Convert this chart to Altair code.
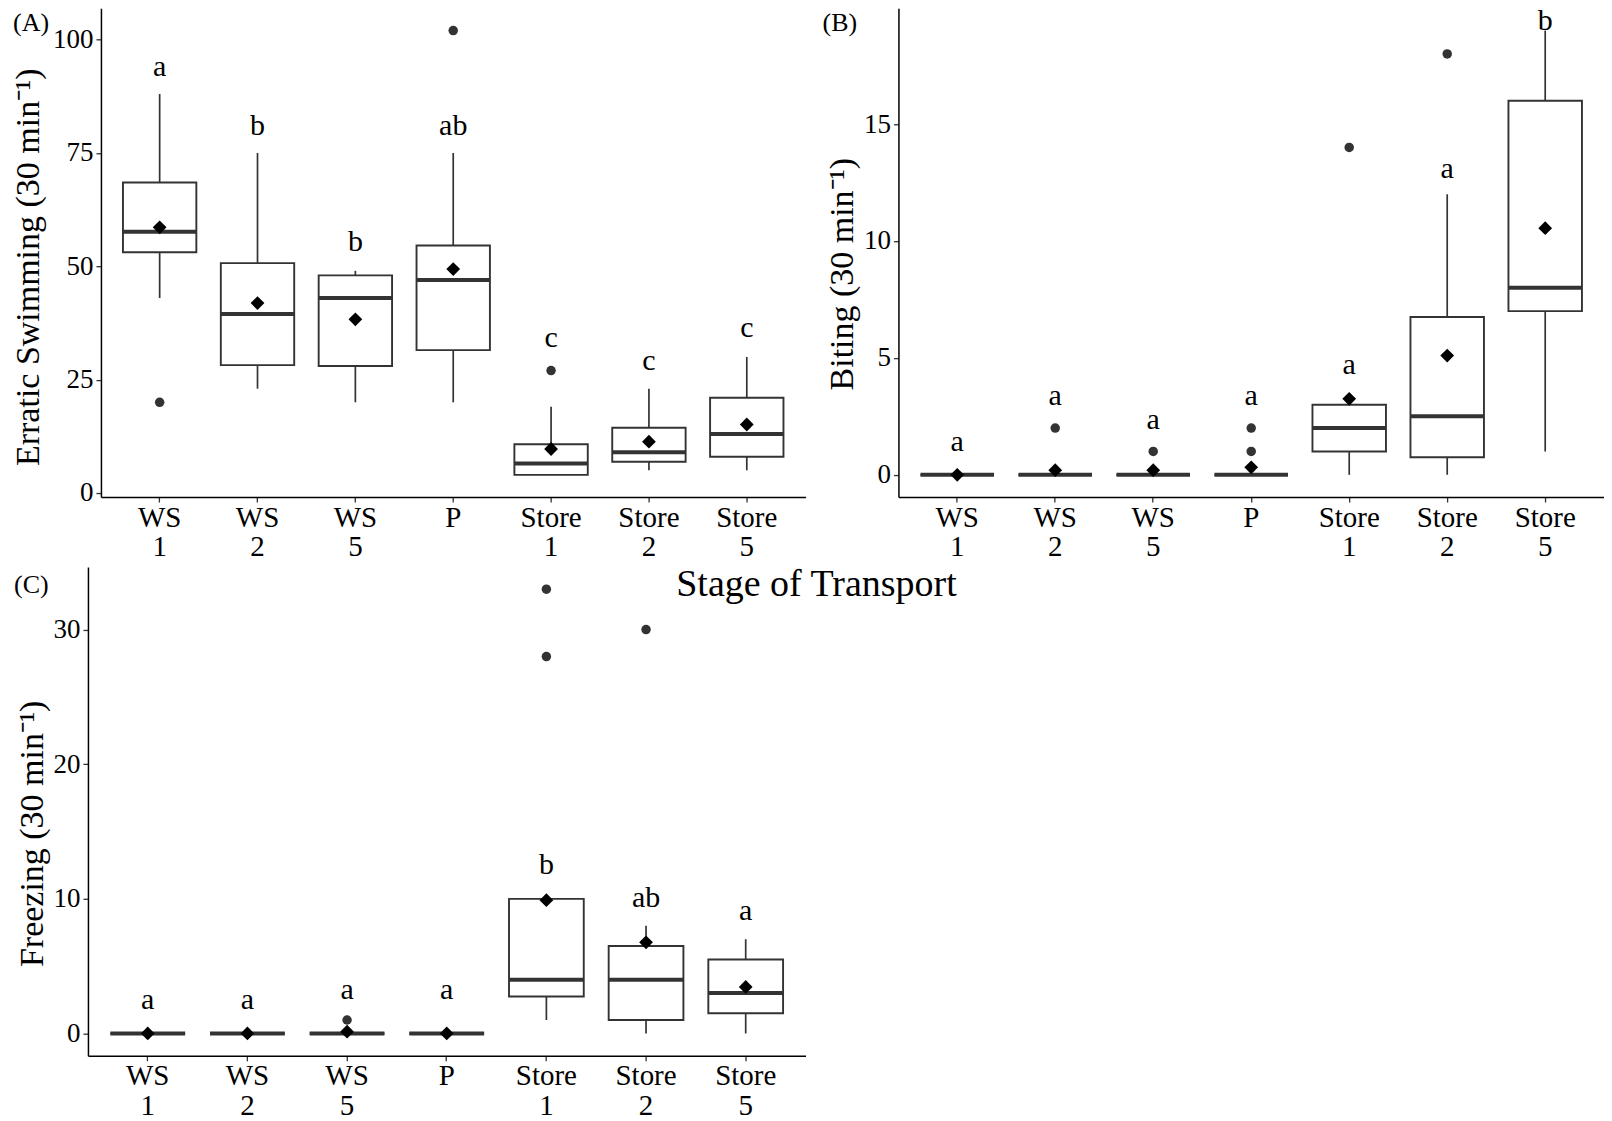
import altair as alt
import pandas as pd

FONT = "Liberation Serif"
cats = ["WS 1", "WS 2", "WS 5", "P", "Store 1", "Store 2", "Store 5"]

# ---------------- Panel A: Erratic swimming ----------------
a_q1 = [53.1, 28.2, 28.0, 31.5, 4.0, 6.9, 8.0]
a_med = [57.6, 39.5, 43.0, 47.0, 6.5, 9.0, 13.0]
a_q3 = [68.5, 50.7, 48.0, 54.6, 10.75, 14.4, 21.0]
a_lo = [43.0, 23.0, 20.0, 20.0, 4.0, 5.0, 5.0]
a_hi = [88.0, 75.0, 49.0, 75.0, 19.0, 23.0, 30.0]
a_mean = [58.6, 41.9, 38.3, 49.4, 9.7, 11.3, 15.1]
a_out_cat = ["WS 1", "P", "Store 1"]
a_out_val = [20, 102, 27]
a_letters = ["a", "b", "b", "ab", "c", "c", "c"]
a_letter_y = [93.9, 81.0, 55.4, 81.0, 34.2, 29.1, 36.3]

# ---------------- Panel B: Biting ----------------
b_q1 = [0, 0, 0, 0, 1.0, 0.75, 7.0]
b_med = [0, 0, 0, 0, 2.0, 2.5, 8.0]
b_q3 = [0, 0, 0, 0, 3.0, 6.75, 16.0]
b_lo = [0, 0, 0, 0, 0, 0, 1.0]
b_hi = [0, 0, 0, 0, 3.0, 12.0, 19.0]
b_mean = [0.0, 0.2, 0.2, 0.32, 3.25, 5.1, 10.55]
b_out_cat = ["WS 2", "WS 5", "P", "P", "Store 1", "Store 2"]
b_out_val = [2, 1, 2, 1, 14, 18]
b_letters = ["a", "a", "a", "a", "a", "a", "b"]
b_letter_y = [1.42, 3.35, 2.36, 3.35, 4.7, 13.1, 19.4]

# ---------------- Panel C: Freezing ----------------
c_q1 = [0, 0, 0, 0, 2.75, 1.0, 1.5]
c_med = [0, 0, 0, 0, 4.0, 4.0, 3.0]
c_q3 = [0, 0, 0, 0, 10.0, 6.5, 5.5]
c_lo = [0, 0, 0, 0, 1.0, 0, 0]
c_hi = [0, 0, 0, 0, 10.0, 8.0, 7.0]
c_mean = [0.0, 0.0, 0.13, 0.0, 9.9, 6.77, 3.46]
c_out_cat = ["WS 5", "Store 1", "Store 1", "Store 2"]
c_out_val = [1, 33, 28, 30]
c_letters = ["a", "a", "a", "a", "b", "ab", "a"]
c_letter_y = [2.5, 2.5, 3.25, 3.25, 12.5, 10.1, 9.07]


def panel(q1, med, q3, lo, hi, mean, out_cat, out_val, letters, letter_y,
          domain, ticks, ytitle, width, height, tag, tagx, tagy,
          title_x, title_dy, xrange=None, yoffset=0, extra=None):
    box = pd.DataFrame({"cat": cats, "q1": q1, "med": med, "q3": q3,
                        "lo": lo, "hi": hi, "mean": mean,
                        "letter": letters, "ly": letter_y})
    outs = pd.DataFrame({"cat": out_cat, "val": out_val})
    r0, r1 = (xrange if xrange else (0, width))
    step = (r1 - r0) / 7.2
    bw = 0.75 * step

    sc_kw = dict(domain=cats, paddingInner=0.25, paddingOuter=0.225)
    if xrange:
        sc_kw["range"] = list(xrange)
    xscale = alt.Scale(**sc_kw)
    xaxis = alt.Axis(labelExpr="split(datum.label, ' ')", labelAngle=0,
                     labelFontSize=29, labelLineHeight=30, labelPadding=1,
                     tickSize=5, title=None)
    yscale = alt.Scale(domain=domain, nice=False, zero=False)
    yaxis = alt.Axis(values=ticks, title=ytitle, titleX=title_x,
                     titleY=height / 2 + title_dy, offset=yoffset,
                     labelFontSize=27, labelPadding=3, tickSize=5,
                     titleFontSize=34)

    def X():
        return alt.X("cat:N", scale=xscale, axis=xaxis, sort=cats)

    def Y(f):
        return alt.Y(f, type="quantitative", scale=yscale, axis=yaxis)

    base = alt.Chart(box)
    whisk = base.mark_rule(color="#333333", strokeWidth=1.7).encode(
        x=X(), y=Y("lo"), y2="hi")
    boxes = base.mark_bar(fill="white", stroke="#333333", strokeWidth=1.9).encode(
        x=X(), y=Y("q1"), y2="q3")
    meds = base.mark_tick(color="#333333", thickness=4, size=bw, opacity=1).encode(
        x=X(), y=Y("med"))
    outl = alt.Chart(outs).mark_circle(color="#333333", size=90, opacity=1).encode(
        x=X(), y=Y("val"))
    means = base.mark_point(shape="diamond", filled=True, color="black",
                            size=190, opacity=1).encode(x=X(), y=Y("mean"))
    lets = base.mark_text(fontSize=30, font=FONT, color="black",
                          baseline="middle", clip=True).encode(
        x=X(), y=Y("ly"), text="letter:N")
    tagc = alt.Chart(pd.DataFrame({"t": [tag]})).mark_text(
        align="left", baseline="middle", fontSize=26, font=FONT, color="black"
    ).encode(x=alt.value(tagx), y=alt.value(tagy), text="t:N")
    layers = [whisk, boxes, meds, outl, means, lets, tagc]
    if extra is not None:
        layers.append(extra)
    return alt.layer(*layers).properties(width=width, height=height)


stage = alt.Chart(pd.DataFrame({"t": ["Stage of Transport"]})).mark_text(
    align="center", baseline="middle", fontSize=38, font=FONT, color="black"
).encode(x=alt.value(716), y=alt.value(18), text="t:N")

pA = panel(a_q1, a_med, a_q3, a_lo, a_hi, a_mean, a_out_cat, a_out_val,
           a_letters, a_letter_y, [-0.9, 106.9], [0, 25, 50, 75, 100],
           "Erratic Swimming (30 min\u207b\u00b9)", 705, 489, "(A)", -88, 15,
           title_x=-55, title_dy=14)
pB = panel(b_q1, b_med, b_q3, b_lo, b_hi, b_mean, b_out_cat, b_out_val,
           b_letters, b_letter_y, [-0.95, 19.95], [0, 5, 10, 15],
           "Biting (30 min\u207b\u00b9)", 706, 489, "(B)", -76, 15,
           title_x=-39, title_dy=21)
pC = panel(c_q1, c_med, c_q3, c_lo, c_hi, c_mean, c_out_cat, c_out_val,
           c_letters, c_letter_y, [-1.65, 34.65], [0, 10, 20, 30],
           "Freezing (30 min\u207b\u00b9)", 705, 489, "(C)", -87, 18,
           title_x=-38, title_dy=22, xrange=(-13, 705), yoffset=13, extra=stage)

chart = alt.vconcat(
    alt.hconcat(pA, pB, spacing=17),
    pC,
    spacing=4,
).properties(
    padding={"left": 3, "top": 0, "right": 0, "bottom": 0}
).configure(
    font=FONT, background="white"
).configure_view(
    stroke=None
).configure_axis(
    labelFont=FONT, titleFont=FONT, labelColor="black", titleColor="black",
    titleFontWeight="normal", domainColor="black", domainWidth=1.5,
    tickColor="#333333", tickWidth=1.3, grid=False
)

chart.save("out.html", embed_options={"renderer": "svg", "actions": False})
